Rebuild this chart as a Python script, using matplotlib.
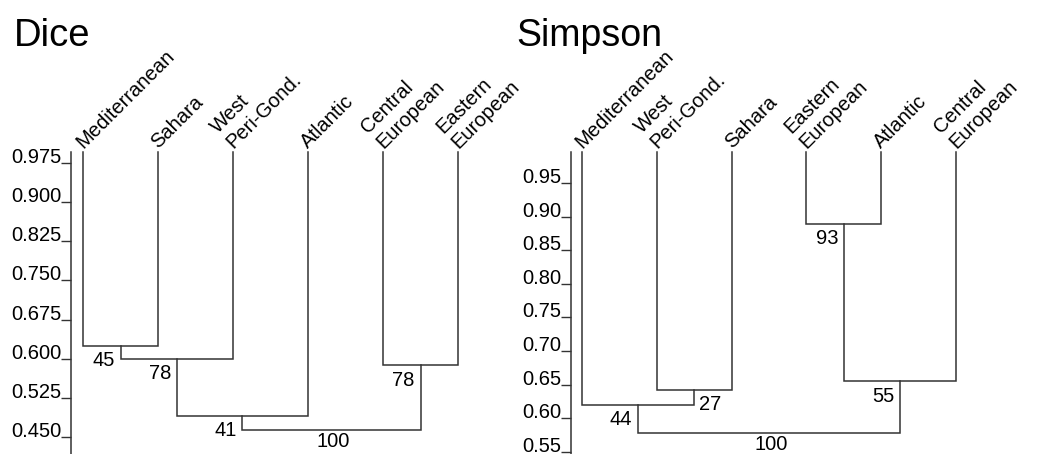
import matplotlib
matplotlib.use("Agg")
import matplotlib.pyplot as plt

plt.rcParams['font.family'] = ['Liberation Sans', 'DejaVu Sans']

# Dice dendrogram
dice_leaves = ["Mediterranean", "Sahara", "West\nPeri-Gond.", "Atlantic",
               "Central\nEuropean", "Eastern\nEuropean"]
# merges: (left node, right node) ; leaves are nodes 0..5, new nodes numbered from 6
dice_pairs = [(0, 1), (6, 2), (7, 3), (4, 5), (8, 9)]
dice_heights = [0.625, 0.600, 0.491, 0.587, 0.463]
dice_support = ["45", "78", "41", "78", "100"]
dice_side = ["left", "left", "left", "left", "center"]
dice_ticks = [0.975, 0.900, 0.825, 0.750, 0.675, 0.600, 0.525, 0.450]
dice_ticklabels = ["0.975", "0.900", "0.825", "0.750", "0.675", "0.600", "0.525", "0.450"]

# Simpson dendrogram
simp_leaves = ["Mediterranean", "West\nPeri-Gond.", "Sahara", "Eastern\nEuropean",
               "Atlantic", "Central\nEuropean"]
simp_pairs = [(3, 4), (1, 2), (0, 7), (6, 5), (8, 9)]
simp_heights = [0.889, 0.642, 0.620, 0.655, 0.578]
simp_support = ["93", "27", "44", "55", "100"]
simp_side = ["left", "right", "left", "left", "center"]
simp_ticks = [0.95, 0.90, 0.85, 0.80, 0.75, 0.70, 0.65, 0.60, 0.55]
simp_ticklabels = ["0.95", "0.90", "0.85", "0.80", "0.75", "0.70", "0.65", "0.60", "0.55"]

W, H = 1050, 454
fig = plt.figure(figsize=(W / 100, H / 100), dpi=100)

LINE = '#333333'
FS = 14.5


def draw_dendro(ax, leaves, pairs, heights, support, side, ticks, ticklabels):
    top = ax.get_ylim()[1]
    xs = list(range(len(leaves)))
    ys = [top] * len(leaves)
    for (a, b), h, s, sd in zip(pairs, heights, support, side):
        ax.plot([xs[a], xs[a], xs[b], xs[b]], [ys[a], h, h, ys[b]],
                color=LINE, lw=1.1, solid_joinstyle='miter', clip_on=False)
        mid = (xs[a] + xs[b]) / 2
        if sd == "left":
            ax.annotate(s, (mid, h), xytext=(-17, -15), textcoords='offset pixels',
                        ha='center', va='center', fontsize=FS)
        elif sd == "right":
            ax.annotate(s, (mid, h), xytext=(16, -14), textcoords='offset pixels',
                        ha='center', va='center', fontsize=FS)
        else:
            ax.annotate(s, (xs[a] / 2 + xs[b] / 2, h), xytext=(2, -11),
                        textcoords='offset pixels', ha='center', va='center', fontsize=FS)
        xs.append(mid)
        ys.append(h)
    for i, name in enumerate(leaves):
        ax.annotate(name, (i, top), xytext=(3, 0), textcoords='offset pixels',
                    rotation=45, rotation_mode='anchor', ha='left', va='bottom',
                    fontsize=FS, linespacing=1.15, annotation_clip=False)
    for sp in ['top', 'right', 'bottom']:
        ax.spines[sp].set_visible(False)
    ax.spines['left'].set_color(LINE)
    ax.spines['left'].set_linewidth(1.1)
    ax.set_xticks([])
    ax.set_yticks(ticks, ticklabels)
    ax.tick_params(axis='y', length=7, width=1.0, color=LINE, pad=0, labelsize=FS)
    for lbl in ax.get_yticklabels():
        lbl.set_verticalalignment('baseline')
    ax.patch.set_visible(False)


# Dice panel: axis at x=71 px, leaves every 75 px starting at 83 px
ax1 = fig.add_axes([71 / W, 0, 424.5 / W, (H - 152) / H])
ax1.set_xlim(-0.16, 5.5)
ax1.set_ylim(0.4174, 0.996)
draw_dendro(ax1, dice_leaves, dice_pairs, dice_heights, dice_support, dice_side,
            dice_ticks, dice_ticklabels)

# Simpson panel
ax2 = fig.add_axes([571 / W, 0, 422.4 / W, (H - 152) / H])
ax2.set_xlim(-0.147, 5.5)
ax2.set_ylim(0.547, 0.996)
draw_dendro(ax2, simp_leaves, simp_pairs, simp_heights, simp_support, simp_side,
            simp_ticks, simp_ticklabels)

fig.text(14 / W, 1 - 46 / H, "Dice", fontsize=27.5, va='baseline', ha='left')
fig.text(516 / W, 1 - 46 / H, "Simpson", fontsize=27, va='baseline', ha='left')

fig.savefig("out.png", dpi=100)
